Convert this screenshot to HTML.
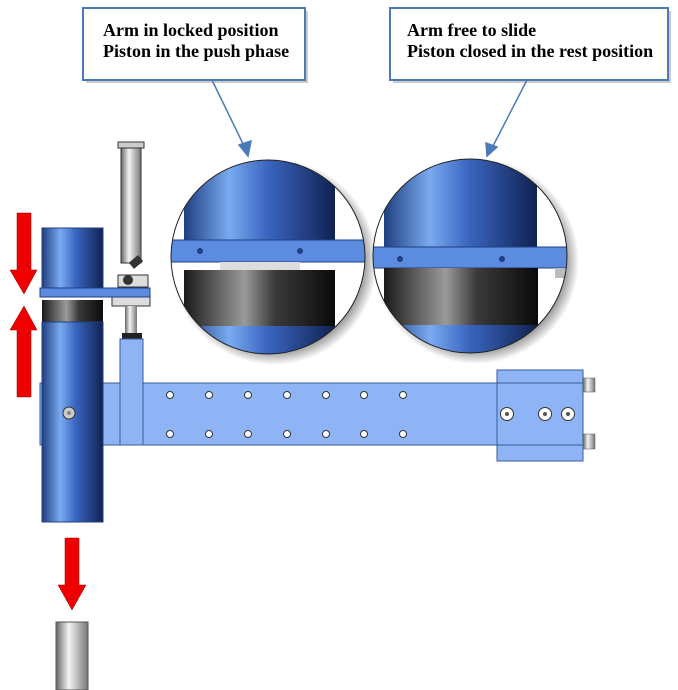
<!DOCTYPE html>
<html><head><style>html,body{margin:0;padding:0;background:#fff}svg{display:block}</style></head><body>
<svg width="678" height="690" viewBox="0 0 678 690" xmlns="http://www.w3.org/2000/svg">
<defs>
<linearGradient id="blue" x1="0" x2="1" y1="0" y2="0">
<stop offset="0" stop-color="#1f3f80"/><stop offset="0.3" stop-color="#7aaaf0"/><stop offset="0.55" stop-color="#3a66c0"/><stop offset="1" stop-color="#0f2250"/></linearGradient>
<linearGradient id="black" x1="0" x2="1"><stop offset="0" stop-color="#1a1a1a"/><stop offset="0.4" stop-color="#9a9a9a"/><stop offset="0.6" stop-color="#3a3a3a"/><stop offset="1" stop-color="#0a0a0a"/></linearGradient>
<linearGradient id="grey" x1="0" x2="1"><stop offset="0" stop-color="#666"/><stop offset="0.4" stop-color="#f4f4f4"/><stop offset="1" stop-color="#777"/></linearGradient>
<clipPath id="c1"><circle cx="268" cy="257" r="97"/></clipPath>
<clipPath id="c2"><circle cx="470" cy="256" r="97"/></clipPath>
<radialGradient id="sh"><stop offset="0.85" stop-color="#000" stop-opacity="0.45"/><stop offset="1" stop-color="#000" stop-opacity="0"/></radialGradient>
</defs>
<rect x="86" y="11" width="222" height="72" fill="#ccc"/>
<rect x="83" y="8" width="222" height="72" fill="#fff" stroke="#4a7ab8" stroke-width="2"/>
<rect x="393" y="11" width="278" height="72" fill="#ccc"/>
<rect x="390" y="8" width="278" height="72" fill="#fff" stroke="#4a7ab8" stroke-width="2"/>
<g font-family="Liberation Serif, serif" font-weight="bold" font-size="18" fill="#000">
<text x="103" y="36">Arm in locked position</text><text x="103" y="57">Piston in the push phase</text>
<text x="407" y="36">Arm free to slide</text><text x="407" y="57">Piston closed in the rest position</text></g>
<g stroke="#4a7ab8" stroke-width="1.5" fill="#4a7ab8">
<line x1="212" y1="80" x2="245" y2="148"/><polygon points="248,156 239,145 251,141"/>
<line x1="527" y1="80" x2="492" y2="148"/><polygon points="487,156 486,143 497,147"/></g>
<circle cx="274" cy="262" r="103" fill="url(#sh)"/>
<circle cx="476" cy="261" r="103" fill="url(#sh)"/>
<circle cx="268" cy="257" r="97" fill="#fff"/>
<g clip-path="url(#c1)">
<rect x="184" y="150" width="151" height="92" fill="url(#blue)"/>
<rect x="170" y="240" width="210" height="22" fill="#5c8ce0" stroke="#1f3f80"/>
<circle cx="200" cy="251" r="3" fill="#1f3f80"/><circle cx="300" cy="251" r="3" fill="#1f3f80"/>
<rect x="220" y="262" width="80" height="8" fill="#ddd"/>
<rect x="184" y="270" width="151" height="56" fill="url(#black)"/>
<rect x="184" y="326" width="151" height="40" fill="url(#blue)"/>
</g>
<circle cx="268" cy="257" r="97" fill="none" stroke="#222" stroke-width="1"/>
<circle cx="470" cy="256" r="97" fill="#fff"/>
<g clip-path="url(#c2)">
<rect x="384" y="150" width="153" height="98" fill="url(#blue)"/>
<rect x="370" y="247" width="210" height="21" fill="#5c8ce0" stroke="#1f3f80"/>
<circle cx="400" cy="259" r="3" fill="#1f3f80"/><circle cx="502" cy="259" r="3" fill="#1f3f80"/>
<rect x="555" y="268" width="10" height="10" fill="#bbb"/>
<rect x="384" y="268" width="154" height="57" fill="url(#black)"/>
<rect x="384" y="325" width="154" height="40" fill="url(#blue)"/>
</g>
<circle cx="470" cy="256" r="97" fill="none" stroke="#222" stroke-width="1"/>
<rect x="40" y="383" width="460" height="62" fill="#8fb4f5" stroke="#3a5a95"/>
<rect x="497" y="370" width="86" height="91" fill="#8fb4f5" stroke="#3a5a95"/>
<line x1="497" y1="383" x2="583" y2="383" stroke="#3a5a95"/><line x1="497" y1="445" x2="583" y2="445" stroke="#3a5a95"/>
<rect x="583" y="378" width="12" height="14" fill="url(#grey)" stroke="#555" stroke-width=".5"/>
<rect x="583" y="434" width="12" height="15" fill="url(#grey)" stroke="#555" stroke-width=".5"/>
<g fill="#fff" stroke="#333" stroke-width="1">
<circle cx="170" cy="395" r="3.5"/><circle cx="209" cy="395" r="3.5"/><circle cx="248" cy="395" r="3.5"/><circle cx="287" cy="395" r="3.5"/><circle cx="326" cy="395" r="3.5"/><circle cx="364" cy="395" r="3.5"/><circle cx="403" cy="395" r="3.5"/>
<circle cx="170" cy="434" r="3.5"/><circle cx="209" cy="434" r="3.5"/><circle cx="248" cy="434" r="3.5"/><circle cx="287" cy="434" r="3.5"/><circle cx="326" cy="434" r="3.5"/><circle cx="364" cy="434" r="3.5"/><circle cx="403" cy="434" r="3.5"/>
<circle cx="507" cy="414" r="6.5"/><circle cx="545" cy="414" r="6.5"/><circle cx="568" cy="414" r="6.5"/></g>
<g fill="#555"><circle cx="507" cy="414" r="2"/><circle cx="545" cy="414" r="2"/><circle cx="568" cy="414" r="2"/></g>
<rect x="118" y="142" width="26" height="6" fill="#ccc" stroke="#333"/>
<rect x="121" y="148" width="20" height="115" fill="url(#grey)" stroke="#333"/>
<rect x="118" y="275" width="30" height="12" fill="#ddd" stroke="#333"/>
<circle cx="128" cy="280" r="5" fill="#333"/>
<rect x="130" y="258" width="12" height="8" fill="#333" transform="rotate(-40 136 262)"/>
<rect x="112" y="296" width="38" height="10" fill="#ddd" stroke="#333"/>
<rect x="125" y="306" width="12" height="30" fill="url(#grey)"/>
<rect x="122" y="333" width="20" height="6" fill="#222"/>
<rect x="120" y="339" width="23" height="106" fill="#8fb4f5" stroke="#3a5a95"/>
<rect x="42" y="228" width="61" height="60" fill="url(#blue)" stroke="#1f3f80"/>
<rect x="40" y="288" width="110" height="9" fill="#5c8ce0" stroke="#1f3f80"/>
<rect x="42" y="300" width="61" height="22" fill="url(#black)"/>
<rect x="42" y="322" width="61" height="200" fill="url(#blue)" stroke="#1f3f80"/>
<circle cx="69" cy="413" r="6" fill="#ccc" stroke="#333"/><circle cx="69" cy="413" r="2" fill="#888"/>
<g fill="#e00" stroke="#900" stroke-width=".5">
<polygon points="17,213 31,213 31,270 37,270 24,294 10,270 17,270"/>
<polygon points="24,306 37,330 31,330 31,397 17,397 17,330 10,330"/>
<polygon points="65,538 79,538 79,585 86,585 72,610 58,585 65,585"/></g>
<rect x="56" y="622" width="32" height="68" fill="url(#grey)" stroke="#555"/>
</svg>
</body></html>
